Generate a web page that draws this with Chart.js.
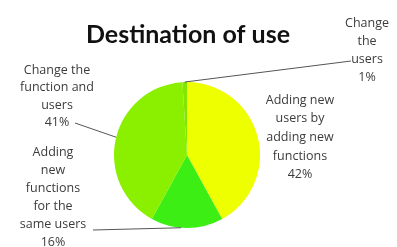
<!DOCTYPE html>
<html>
<head>
<meta charset="utf-8">
<script src="https://cdn.jsdelivr.net/npm/chart.js@4/dist/chart.umd.min.js"></script>
<style>
  html, body { margin: 0; padding: 0; background: #fff; }
  #wrap { width: 397px; height: 247px; }
</style>
</head>
<body>
<div id="wrap"><canvas id="useChart" width="397" height="247"></canvas></div>
<script>
// data
const categories = [
    'Adding new users by adding new functions',
    'Adding new functions for the same users',
    'Change the function and users',
    'Change the users'
];
const shares = [42, 16, 41, 1];
// how each label wraps in the original
const wrapped = [
    ['Adding new', 'users by', 'adding new', 'functions'],
    ['Adding', 'new', 'functions', 'for the', 'same users'],
    ['Change the', 'function and', 'users'],
    ['Change', 'the', 'users']
];

const sliceColors = ['#eeff00', '#3cee14', '#8af000', '#84e600'];

// label placement: centre x, first line y, line step, leader start, anchor fraction on arc
const labelPos = [
    { x: 300, y: 100, step: 18.7, line: null },
    { x: 53, y: 152, step: 18, line: { x: 93, y: 230, f: 0.58 } },
    { x: 57, y: 70, step: 17.5, line: { x: 75, y: 123, f: 0.51 } },
    { x: 367, y: 23, step: 18, line: { x: 351, y: 61, f: 0.5 } }
];

const sliceLabels = {
    id: 'sliceLabels',
    afterDatasetsDraw(chart) {
        const ctx = chart.ctx;
        const arcs = chart.getDatasetMeta(0).data;
        ctx.save();
        ctx.textAlign = 'center';
        ctx.textBaseline = 'middle';
        // title
        ctx.font = 'bold 25px Lato, "Open Sans", sans-serif';
        ctx.fillStyle = '#111';
        ctx.fillText('Destination of use', 188, 35);

        ctx.font = '12.5px "Open Sans", sans-serif';
        ctx.fillStyle = '#3c3c3c';
        labelPos.forEach((p, i) => {
            const lines = wrapped[i].concat([shares[i] + '%']);
            lines.forEach((t, k) => ctx.fillText(t, p.x, p.y + k * p.step));
            if (p.line) {
                const a = arcs[i].getProps(['x', 'y', 'startAngle', 'endAngle', 'outerRadius'], true);
                const ang = a.startAngle + (a.endAngle - a.startAngle) * p.line.f;
                ctx.beginPath();
                ctx.moveTo(p.line.x, p.line.y);
                ctx.lineTo(a.x + Math.cos(ang) * a.outerRadius, a.y + Math.sin(ang) * a.outerRadius);
                ctx.strokeStyle = '#555';
                ctx.lineWidth = 1;
                ctx.stroke();
            }
        });
        ctx.restore();
    }
};

new Chart(document.getElementById('useChart'), {
    type: 'pie',
    data: {
        labels: categories,
        datasets: [{
            data: shares,
            backgroundColor: sliceColors,
            borderWidth: 0
        }]
    },
    options: {
        responsive: false,
        animation: false,
        layout: { padding: { left: 114, right: 137, top: 81, bottom: 18 } },
        plugins: {
            legend: { display: false },
            tooltip: { enabled: false },
            title: { display: false }
        }
    },
    plugins: [sliceLabels]
});
</script>
</body>
</html>
